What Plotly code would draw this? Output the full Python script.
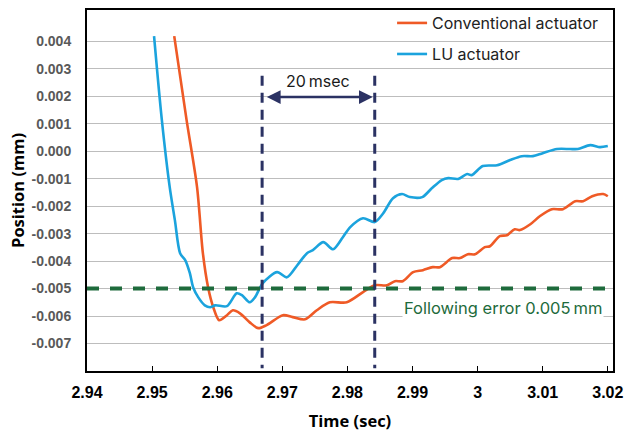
import plotly.graph_objects as go

# ---- data ----
lu_time = [2.9503, 2.9515, 2.9527, 2.9535, 2.9543, 2.9551, 2.9558, 2.9563, 2.9571, 2.9581,
           2.9589, 2.9597, 2.9615, 2.9630, 2.9638, 2.9650, 2.9658, 2.9670, 2.9692, 2.9707,
           2.9723, 2.9738, 2.9747, 2.9763, 2.9778, 2.9793, 2.9804, 2.9824, 2.9842, 2.9855,
           2.9870, 2.9884, 2.9896, 2.9915, 2.9930, 2.9945, 2.9955, 2.9970, 2.9984, 2.9991,
           3.0008, 3.0030, 3.0050, 3.0068, 3.0085, 3.0100, 3.0122, 3.0142, 3.0154, 3.0173,
           3.0188, 3.0200]
lu_pos = [0.00419, 0.00113, -0.00130, -0.00251, -0.00371, -0.00397, -0.00444, -0.00495, -0.00532, -0.00561,
          -0.00568, -0.00561, -0.00564, -0.00517, -0.00524, -0.00550, -0.00532, -0.00480, -0.00440, -0.00459,
          -0.00415, -0.00371, -0.00360, -0.00331, -0.00357, -0.00313, -0.00277, -0.00244, -0.00258, -0.00226,
          -0.00171, -0.00156, -0.00167, -0.00167, -0.00134, -0.00105, -0.00098, -0.00101, -0.00083, -0.00087,
          -0.00054, -0.00051, -0.00032, -0.00018, -0.00018, -0.00007, 0.00008, 0.00008, 0.00008, 0.00022,
          0.00015, 0.00019]

conv_time = [2.9534, 2.9553, 2.9569, 2.9578, 2.9586, 2.9594, 2.9603, 2.9615, 2.9624, 2.9635,
             2.9650, 2.9663, 2.9676, 2.9701, 2.9716, 2.9735, 2.9753, 2.9773, 2.9799, 2.9824,
             2.9842, 2.9861, 2.9873, 2.9885, 2.9901, 2.9916, 2.9931, 2.9942, 2.9961, 2.9973,
             2.9985, 2.9996, 3.0011, 3.0019, 3.0034, 3.0045, 3.0057, 3.0065, 3.0081, 3.0096,
             3.0114, 3.0131, 3.0150, 3.0162, 3.0176, 3.0193, 3.0200]
conv_pos = [0.00419, 0.00113, -0.00130, -0.00371, -0.00495, -0.00568, -0.00615, -0.00597, -0.00579, -0.00590,
            -0.00623, -0.00644, -0.00633, -0.00597, -0.00604, -0.00612, -0.00579, -0.00550, -0.00550, -0.00513,
            -0.00488, -0.00488, -0.00473, -0.00473, -0.00440, -0.00433, -0.00422, -0.00422, -0.00389, -0.00389,
            -0.00375, -0.00375, -0.00349, -0.00346, -0.00309, -0.00306, -0.00284, -0.00287, -0.00266, -0.00236,
            -0.00211, -0.00211, -0.00182, -0.00182, -0.00164, -0.00156, -0.00164]

x_tick_vals = [2.94, 2.95, 2.96, 2.97, 2.98, 2.99, 3.00, 3.01, 3.02]
x_tick_text = ["2.94", "2.95", "2.96", "2.97", "2.98", "2.99", "3", "3.01", "3.02"]
y_tick_vals = [0.004, 0.003, 0.002, 0.001, 0.0, -0.001, -0.002, -0.003, -0.004, -0.005, -0.006, -0.007]
y_tick_text = ["0.004", "0.003", "0.002", "0.001", "0.000", "-0.001", "-0.002", "-0.003",
               "-0.004", "-0.005", "-0.006", "-0.007"]

following_error = -0.005
window_start, window_end = 2.9669, 2.9842

ORANGE = "#EF5A26"
BLUE = "#1BA3DD"
NAVY = "#2B3263"
GREEN = "#1E6B3C"
LEGEND_FONT = dict(family="Inter", size=16, color="#222222")

fig = go.Figure()
fig.add_trace(go.Scatter(x=conv_time, y=conv_pos, mode="lines", name="Conventional actuator",
                         line=dict(color=ORANGE, width=2.6, shape="spline", smoothing=0.8),
                         legend="legend"))
fig.add_trace(go.Scatter(x=lu_time, y=lu_pos, mode="lines", name="LU actuator",
                         line=dict(color=BLUE, width=2.6, shape="spline", smoothing=0.8),
                         legend="legend2"))

# following-error line
fig.add_shape(type="line", xref="paper", yref="y", x0=0, x1=1, y0=following_error, y1=following_error,
              line=dict(color=GREEN, width=4, dash="12px,11px"), layer="above")
# 20 msec window
for xv in (window_start, window_end):
    fig.add_shape(type="line", xref="x", yref="y", x0=xv, x1=xv, y0=0.00275, y1=-0.0079,
                  line=dict(color=NAVY, width=3, dash="10px,7px"), layer="above")

fig.add_annotation(x=window_end - 0.0003, y=0.00197, ax=window_start + 0.0005, ay=0.00197,
                   xref="x", yref="y", axref="x", ayref="y", text="", showarrow=True,
                   arrowside="end+start", arrowhead=2, arrowsize=1.1, arrowwidth=2.5, arrowcolor=NAVY)
fig.add_annotation(x=(window_start + window_end) / 2, y=0.00255, xref="x", yref="y",
                   text="20\u2009msec", showarrow=False,
                   font=dict(family="Inter", size=16, color="#1a1a1a"))
fig.add_annotation(x=3.0194, y=-0.00572, xref="x", yref="y", xanchor="right",
                   text="Following error 0.005\u2009mm", showarrow=False, bgcolor="white",
                   font=dict(family="Inter", size=16.5, color=GREEN))

fig.update_layout(
    width=626, height=432,
    margin=dict(l=87, r=13, t=10, b=61, autoexpand=False),
    paper_bgcolor="white", plot_bgcolor="white",
    legend=dict(x=0.58, y=1.011, xanchor="left", yanchor="top", bgcolor="rgba(0,0,0,0)",
                font=LEGEND_FONT, itemwidth=30),
    legend2=dict(x=0.58, y=0.925, xanchor="left", yanchor="top", bgcolor="rgba(0,0,0,0)",
                 font=LEGEND_FONT, itemwidth=30),
    showlegend=True,
)
fig.update_xaxes(range=[2.94, 3.0208], tickvals=x_tick_vals, ticktext=x_tick_text,
                 showgrid=False, zeroline=False, showline=True, mirror=True, automargin=False,
                 linecolor="black", linewidth=2, ticks="inside", ticklen=5, tickcolor="black",
                 tickwidth=1, ticklabelstandoff=6,
                 tickfont=dict(family="Liberation Sans", size=16, color="black", weight="bold"),
                 title=dict(text="Time (sec)", standoff=17,
                            font=dict(family="Open Sans", size=16.5, color="black", weight="bold")))
fig.update_yaxes(range=[-0.008, 0.00514], tickvals=y_tick_vals, ticktext=y_tick_text,
                 showgrid=True, gridcolor="#BDBDBD", gridwidth=1, zeroline=False, automargin=False,
                 showline=True, mirror=True, linecolor="black", linewidth=2, ticks="",
                 ticklabelstandoff=11,
                 tickfont=dict(family="Liberation Sans", size=14, color="#595959", weight="bold"),
                 title=dict(text="Position (mm)", standoff=3,
                            font=dict(family="Open Sans", size=16.5, color="black", weight="bold")))

fig.write_html("out.html", config={"displayModeBar": False},
               post_script="document.body.style.margin='0';document.body.style.overflow='hidden';")
